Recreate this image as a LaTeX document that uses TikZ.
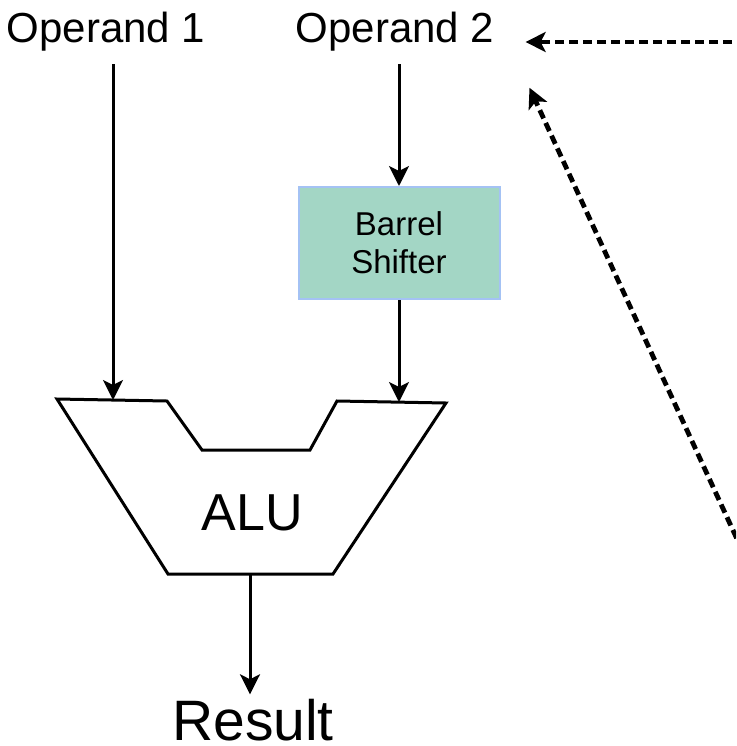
\documentclass[tikz,border=0pt]{standalone}
\usepackage{fontspec}
\setmainfont{Liberation Sans}
\usetikzlibrary{arrows.meta}
\definecolor{shiftfill}{RGB}{163,214,197}
\definecolor{shiftdraw}{RGB}{164,194,244}
\tikzset{every picture/.style={x=0.5pt, y=-0.5pt}}
\tikzset{tip/.style={-{Stealth[length=10pt, width=10pt, inset=2.5pt]}}}
\tikzset{wire/.style={tip, line width=1.5pt}}
\tikzset{hint/.style={tip, line width=2.4pt, dash pattern=on 4.5pt off 2.5pt}}
\tikzset{operand/.style={font=\fontsize{21}{25}\selectfont, inner xsep=12pt, inner ysep=6.5pt, anchor=base}}
\tikzset{shifterbox/.style={draw=shiftdraw, fill=shiftfill, line width=1pt, align=center,
    minimum width=100.5pt, minimum height=56pt, font=\fontsize{16.5}{19}\selectfont}}

\begin{document}
\begin{tikzpicture}
\useasboundingbox (0,0) rectangle (736,746);
\clip (0,0) rectangle (736,746);

\node[operand] (op1) at (106,42) {Operand 1};
\node[operand] (op2) at (395,42) {Operand 2};
\node[shifterbox] (shifter) at (399,243) {Barrel\\Shifter};

\coordinate (in1) at (113,400);
\coordinate (in2) at (399,402);
\coordinate (out) at (250,574);
\draw[line width=1.5pt, line join=miter] (57,399) -- (167,401) -- (202,450) -- (310,450)
    -- (337,401) -- (446,403) -- (333,574) -- (168,574) -- cycle;
\node[font=\fontsize{26}{30}\selectfont, anchor=base] (alu) at (252,530) {ALU};
\node[font=\fontsize{28.5}{32}\selectfont, inner ysep=2pt, anchor=base] (res) at (253,740) {Result};

\draw[wire] (op1.south -| in1) -- (in1);
\draw[wire] (op2.south -| shifter) -- (shifter);
\draw[wire] (shifter) -- (in2);
\draw[wire] (out) -- (res.north -| out);

\coordinate (src1) at (760,42);
\coordinate (src2) at (760,589);
\draw[hint, shorten >=3.5pt] (src1) -- (op2.base east);
\draw[hint, shorten >=13pt] (src2) -- (op2.south east);
\end{tikzpicture}
\end{document}
